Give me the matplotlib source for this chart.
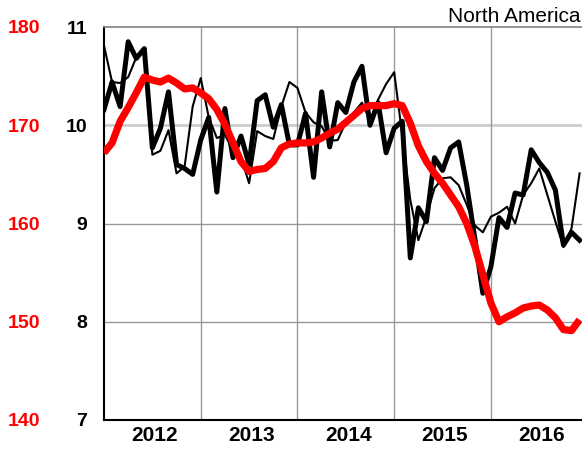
import matplotlib
matplotlib.use("Agg")
import matplotlib.pyplot as plt
import numpy as np

plt.rcParams["font.family"] = ["Liberation Sans", "DejaVu Sans"]

YEARS = ["2012", "2013", "2014", "2015", "2016"]

# monthly values, Jan 2012 .. Dec 2016
THICK = [10.16, 10.44, 10.19, 10.85, 10.68, 10.78, 9.77, 9.97, 10.34, 9.60,
         9.56, 9.50, 9.85, 10.08, 9.32, 10.17, 9.67, 9.89, 9.60, 10.25,
         10.31, 9.98, 10.21, 9.80, 9.80, 10.12, 9.47, 10.34, 9.78, 10.23,
         10.13, 10.44, 10.60, 10.00, 10.23, 9.72, 9.97, 10.04, 8.65, 9.16,
         9.02, 9.67, 9.54, 9.77, 9.83, 9.39, 8.85, 8.29, 8.56, 9.06,
         8.96, 9.31, 9.29, 9.75, 9.62, 9.52, 9.34, 8.78, 8.91, 8.83]

THIN = [10.81, 10.44, 10.43, 10.49, 10.69, 10.75, 9.70, 9.74, 9.95, 9.51,
        9.58, 10.19, 10.48, 10.08, 9.87, 9.90, 9.75, 9.67, 9.41, 9.94,
        9.89, 9.86, 10.19, 10.44, 10.38, 10.13, 10.03, 9.99, 9.84, 9.85,
        10.03, 10.13, 10.23, 10.05, 10.26, 10.42, 10.54, 9.90, 9.24, 8.83,
        9.07, 9.36, 9.46, 9.47, 9.39, 9.19, 8.98, 8.91, 9.07, 9.11,
        9.17, 9.00, 9.29, 9.41, 9.56, 9.29, 9.02, 8.76, 8.95, 9.51]

RED = [167.2, 168.2, 170.4, 171.8, 173.3, 174.9, 174.6, 174.4, 174.8, 174.3,
       173.7, 173.8, 173.3, 172.7, 171.6, 170.1, 168.2, 166.3, 165.3, 165.5,
       165.6, 166.3, 167.7, 168.1, 168.2, 168.2, 168.3, 168.7, 169.2, 169.6,
       170.3, 171.0, 171.7, 172.0, 172.0, 172.0, 172.2, 172.0, 170.2, 167.9,
       166.3, 165.1, 164.1, 162.9, 161.7, 160.0, 157.7, 154.8, 151.9, 150.0,
       150.5, 150.9, 151.4, 151.6, 151.7, 151.2, 150.4, 149.2, 149.1, 150.2]

x = np.arange(len(THICK))

fig = plt.figure(figsize=(5.82, 4.49), dpi=100)
ax = fig.add_axes([104 / 582, 1 - 420 / 449, 1 - 104 / 582, 393 / 449])
ax2 = ax.twinx()

ax.set_xlim(0, 59.3)
ax.set_ylim(7, 11)
ax2.set_ylim(140, 180)

# grid
for v, c, w in [(8, "#999999", 1.0), (9, "#999999", 1.0), (10, "#cccccc", 2.0)]:
    ax.axhline(v, color=c, lw=w, zorder=0)
for yr in range(1, len(YEARS)):
    ax.axvline(12 * yr, color="#999999", lw=1.0, zorder=0)

ax.plot(x, THIN, color="black", lw=1.5, zorder=3)
ax.plot(x, THICK, color="black", lw=3.6, zorder=4)
ax2.plot(x, RED, color="#ff0000", lw=5.2, zorder=5, solid_capstyle="butt")

# y axes: both on the left
ax.set_yticks([7, 8, 9, 10, 11])
ax.tick_params(axis="y", length=0, pad=12, labelsize=14)
for t in ax.get_yticklabels():
    t.set_fontweight("bold")

ax2.yaxis.set_ticks_position("left")
ax2.yaxis.set_label_position("left")
ax2.set_yticks([140, 150, 160, 170, 180])
ax2.tick_params(axis="y", length=0, pad=46, labelsize=14, labelcolor="#ff0000")
for t in ax2.get_yticklabels():
    t.set_fontweight("bold")

ax.set_xticks([6.3 + 12 * i for i in range(len(YEARS))])
ax.set_xticklabels(YEARS, fontsize=15, fontweight="bold")
ax.tick_params(axis="x", length=0, pad=4)

for a in (ax, ax2):
    a.spines["right"].set_visible(False)
    a.spines["top"].set_color("#808080")
    a.spines["top"].set_linewidth(1.2)
    a.spines["left"].set_linewidth(1.5)
    a.spines["bottom"].set_linewidth(1.5)
ax2.spines["left"].set_visible(False)
ax2.spines["bottom"].set_visible(False)
ax2.spines["top"].set_visible(False)

fig.text(0.997, 1 - 22 / 449, "North America", ha="right", va="baseline",
         fontsize=15)

fig.savefig("out.png", dpi=100)
